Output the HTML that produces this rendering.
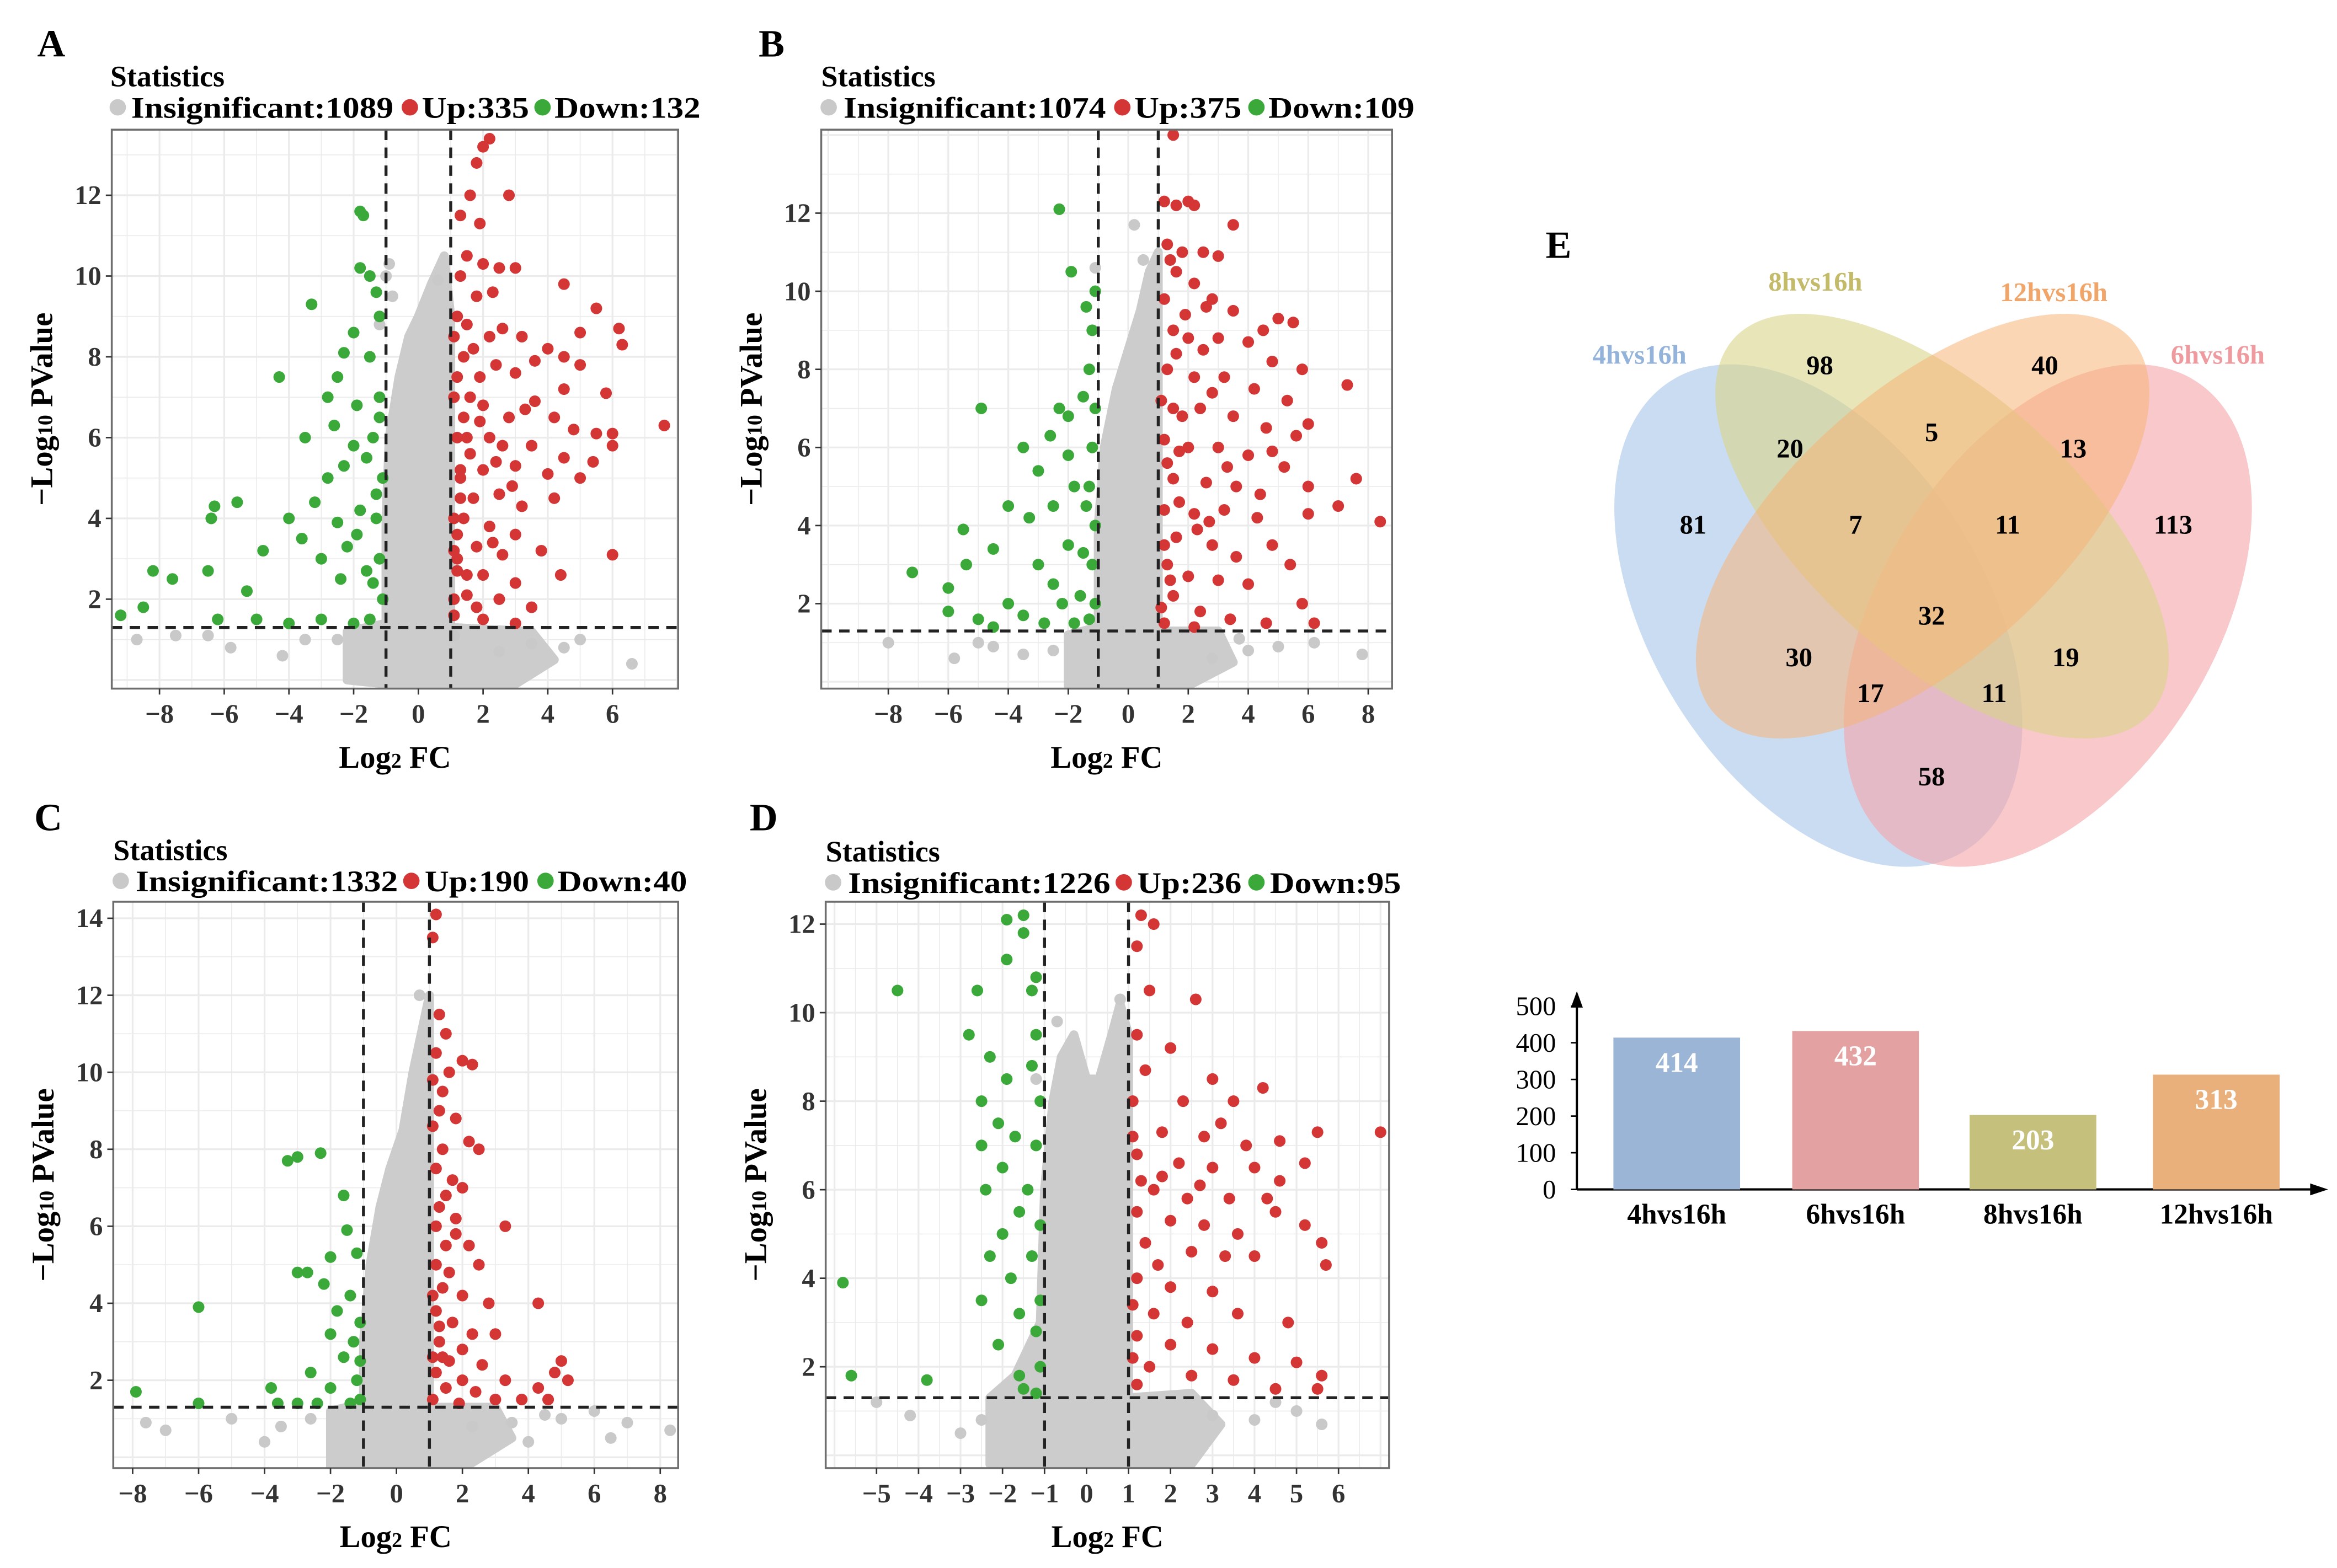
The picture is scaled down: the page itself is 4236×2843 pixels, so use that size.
<!DOCTYPE html>
<html><head><meta charset="utf-8"><style>
html,body{margin:0;padding:0;background:#fff;}
svg{display:block;font-family:"Liberation Serif",serif;}
</style></head><body>
<svg id="fig" xmlns="http://www.w3.org/2000/svg" width="4236" height="2843" viewBox="0 0 1568 1052" preserveAspectRatio="none">
<rect x="0" y="0" width="1568" height="1052" fill="#fff"/>
<g id="panels"></g>
<g id="venn">
  <text x="1037" y="173" font-size="26" font-weight="bold">E</text>
  <ellipse cx="1220" cy="413" rx="186" ry="112" transform="rotate(58 1220 413)" fill="#a9c6e8" fill-opacity="0.62"/>
  <ellipse cx="1374" cy="413" rx="186" ry="112" transform="rotate(-58 1374 413)" fill="#f3a3a8" fill-opacity="0.6"/>
  <ellipse cx="1303" cy="353" rx="188" ry="90" transform="rotate(42 1303 353)" fill="#d8d388" fill-opacity="0.6"/>
  <ellipse cx="1290" cy="353" rx="188" ry="90" transform="rotate(-42 1290 353)" fill="#f5b478" fill-opacity="0.55"/>
  <text x="1100" y="244" font-size="18" font-weight="bold" fill="#93b3da" text-anchor="middle">4hvs16h</text>
  <text x="1218" y="195" font-size="18" font-weight="bold" fill="#c4bb6a" text-anchor="middle">8hvs16h</text>
  <text x="1378" y="202" font-size="18" font-weight="bold" fill="#f0a66a" text-anchor="middle">12hvs16h</text>
  <text x="1488" y="244" font-size="18" font-weight="bold" fill="#ee9a9e" text-anchor="middle">6hvs16h</text>
  <g id="vennnums" font-size="18" font-weight="bold" text-anchor="middle"></g>
</g>
<g id="bars"></g>
</svg>
<script>
// ---------- Volcano data (Log2FC, -Log10 P) ----------
const aRed=[1.1,2,1.2,3,1.1,4,1.3,5,1.2,6,1.1,7,1.4,8,1.2,9,1.3,10,1.5,10.5,1.6,12,1.8,12.8,2,13.2,2.2,13.4,1.9,11.3,2,10.3,2.5,10.2,3,10.2,1.8,9.5,2.3,9.6,1.5,8.8,2.2,8.5,2.6,8.7,3.2,8.5,1.9,7.5,2.4,7.8,3,7.6,3.6,7.9,4,8.2,4.5,8,5,7.8,1.6,7,2,6.8,2.8,6.5,3.3,6.7,4.2,6.5,4.8,6.2,5.5,6.1,6,6.1,7.6,6.3,1.5,6,2.2,6,2.6,5.8,3.5,5.8,4.5,5.5,5.4,5.4,6,5.8,1.3,5.2,2,5.2,3,5.3,4,5.1,5,5,1.7,4.5,2.5,4.6,3.2,4.3,4.2,4.5,1.4,4,2.2,3.8,3,3.6,1.8,3.3,2.6,3.1,3.8,3.2,6,3.1,1.2,2.7,2,2.6,3,2.4,4.4,2.6,1.5,2.1,2.5,2,3.5,1.8,1.1,1.6,2,1.5,3,1.4,4.5,9.8,5.5,9.2,6.2,8.7,6.3,8.3,5,8.6,4.5,7.2,5.8,7.1,1.1,3.2,1.3,11.5,2.8,12,1.2,7.5,1.4,6.5,1.3,4.5,1.2,3.6,1.6,5.6,1.7,8.2,1.9,6.4,1.1,8.5,2.4,5.4,3.6,6.9,2.9,4.8,1.5,2.6,1.8,1.8,2.3,3.4];
const aGreen=[-1.1,2,-1.2,3,-1.3,4,-1.1,5,-1.4,6,-1.2,7,-1.5,8,-1.2,9,-1.5,10,-1.8,10.2,-1.7,11.5,-1.8,11.6,-1.3,9.6,-2,8.6,-2.3,8.1,-3.3,9.3,-2.5,7.5,-2.8,7,-1.9,6.8,-2.6,6.3,-2,5.8,-3.5,6,-4.3,7.5,-2.3,5.3,-2.8,5,-3.2,4.4,-1.8,4.2,-2.5,3.9,-4,4,-3.6,3.5,-2.2,3.3,-3,3,-1.6,2.7,-2.4,2.5,-4.8,3.2,-5.3,2.2,-6.3,4.3,-6.4,4,-5.6,4.4,-7.6,2.5,-8.2,2.7,-8.5,1.8,-9.2,1.6,-6.5,2.7,-5,1.5,-4,1.4,-3,1.5,-2,1.4,-6.2,1.5,-1.5,1.5,-1.2,6.5,-1.6,5.5,-1.3,4.6,-1.9,3.6,-1.4,2.4];
const aGrayArea=[-2.2,0,-2.2,1.2,-1,1.4,-1,4,-0.9,6,-0.6,7.5,-0.3,8.5,0,9,0.4,9.8,0.8,10.5,1,9,1,4,1,1.3,3.5,1.2,4.2,0.5,3,-0.1,-1,-0.1];
const aGray=[-1,10,-0.8,9.5,0.6,9.9,-2.5,1,-3.5,1,-5.8,0.8,-7.5,1.1,-8.7,1,3.5,0.9,4.5,0.8,5,1,6.6,0.4,-4.2,0.6,2.5,0.7,-1.2,8.8,-0.9,10.3,1.1,1.1,-6.5,1.1];

const bRed=[1.5,14,1.2,12.3,1.6,12.2,2,12.3,2.2,12.2,3.5,11.7,1.3,11.2,1.8,11,2.5,11,3,10.9,1.6,10.5,2.2,10.2,1.2,9.8,2.8,9.8,3.5,9.5,4.5,9,5,9.3,5.5,9.2,1.5,9,2,8.8,2.5,8.5,3,8.8,4,8.7,4.8,8.2,5.8,8,1.3,8,2.2,7.8,3.2,7.8,4.2,7.5,5.3,7.2,7.3,7.6,1.5,7,2.4,7,3.5,6.8,4.6,6.5,5.6,6.3,6,6.6,7.6,5.2,1.2,6.2,2,6,3,6,4,5.8,4.8,5.9,5.2,5.5,1.5,5.2,2.6,5.1,3.6,5,4.4,4.8,6,5,1.2,4.4,2.2,4.3,3.2,4.4,4.3,4.2,6,4.3,7,4.5,8.4,4.1,1.6,3.7,2.8,3.5,3.6,3.2,4.8,3.5,5.4,3,1.3,3,2,2.7,3,2.6,4,2.5,5.8,2,1.5,2.2,2.4,1.8,3.4,1.6,1.2,1.5,2.2,1.4,4.6,1.5,6.2,1.5,1.8,6.8,2.6,9.6,1.4,10.8,1.1,7.2,1.3,5.6,1.7,4.6,1.2,3.5,1.4,2.6,1.9,9.4,2.8,7.4,3.3,5.5,2.3,3.9,1.1,1.9,1.7,5.9,2.7,4.1,1.6,8.4];
const bGreen=[-1.1,2,-1.2,3,-1.1,4,-1.3,5,-1.2,6,-1.1,7,-1.3,8,-1.2,9,-1.1,10,-1.4,9.6,-1.9,10.5,-2.3,12.1,-1.5,7.3,-2,6.8,-2.3,7,-4.9,7,-2.6,6.3,-3.5,6,-2,5.8,-3,5.4,-1.8,5,-4,4.5,-2.5,4.5,-3.3,4.2,-5.5,3.9,-2,3.5,-4.5,3.4,-3,3,-5.4,3,-7.2,2.8,-6,2.4,-2.5,2.5,-1.6,2.2,-4,2,-3.5,1.7,-5,1.6,-6,1.8,-2.8,1.5,-4.5,1.4,-1.8,1.5,-2.2,2,-1.4,4.5,-1.5,3.3,-1.3,1.6];
const bGrayArea=[-2,-0.1,-2,1.2,-1,1.4,-1,4,-0.8,6,-0.4,7.5,0,8.5,0.4,9.5,0.7,10.5,1,11,1,1.3,3,1.3,3.5,0.5,2,-0.1];
const bGray=[-5,1,-3.5,0.7,-4.5,0.9,-5.8,0.6,-8,1,4,0.8,5,0.9,6.2,1,7.8,0.7,2.8,0.6,0.5,10.8,0.2,11.7,-2.5,0.8,-1.1,10.6,3.7,1.1];

const cRed=[1.2,14.1,1.1,13.5,1.3,11.5,1.5,11,1.2,10.5,1.6,10,1.4,9.5,2,10.3,2.3,10.2,1.3,9,1.8,8.8,2.2,8.2,2.5,8,1.4,8,1.2,7.5,1.7,7.2,2,7,1.3,6.5,1.8,6.2,1.2,6,2.2,5.5,3.3,6,1.5,5.5,1.2,5,1.6,4.8,2.5,5,1.4,4.4,2,4.2,2.8,4,4.3,4,1.2,3.8,1.7,3.5,2.3,3.2,3,3.2,1.3,3,2,2.8,1.6,2.5,2.6,2.4,1.2,2.2,2,2,3.3,2,1.5,1.8,2.4,1.7,1.1,1.5,3,1.5,4.6,1.5,4.3,1.8,5,2.5,5.2,2,4.8,2.2,3.8,1.5,1.9,1.4,1.4,2.6,1.8,5.8,1.1,9.8,1.1,8.6,1.5,6.8,1.1,4.2,1.3,3.4,1.1,2.6];
const cGreen=[-1.1,1.5,-1.2,2,-1.1,2.5,-1.3,3,-1.1,3.5,-1.4,4.2,-1.2,5.3,-1.6,6.8,-1.5,5.9,-2,5.2,-2.2,4.5,-1.8,3.8,-2,3.2,-1.6,2.6,-2.6,2.2,-2.4,1.4,-3,1.4,-2.3,7.9,-3,7.8,-3.3,7.7,-3,4.8,-2.7,4.8,-3.8,1.8,-3.6,1.4,-6,3.9,-6,1.4,-7.9,1.7,-1.4,1.4,-2,1.8];
const cGrayArea=[-2,-0.3,-2,1.2,-1,1.4,-1,3,-0.8,5,-0.5,6.5,-0.2,7.5,0.2,8.5,0.5,10,0.8,11.2,1,12,1,1.3,3,1.3,3.5,0.5,2,-0.3];
const cGray=[-7,0.7,-4,0.4,-5,1,-3.5,0.8,3.5,0.9,4.5,1.1,5,1,6.5,0.5,7,0.9,8.3,0.7,4,0.4,-2.6,1,0.7,12,2.3,0.8,-7.6,0.9,6,1.2];

const dRed=[1.3,12.2,1.6,12,1.2,11.5,1.5,10.5,2.6,10.3,1.2,9.5,2,9.2,1.4,8.7,1.1,8,2.3,8,3.5,8,4.2,8.3,3.2,7.5,1.8,7.3,2.8,7.2,3.8,7,4.6,7.1,5.5,7.3,7,7.3,1.2,6.8,2.2,6.6,3,6.5,4,6.5,4.6,6.2,5.2,6.6,1.6,6,2.4,5.8,3.4,5.8,4.3,5.8,1.2,5.5,2,5.3,2.8,5.2,3.6,5,4.5,5.5,5.2,5.2,5.6,4.8,1.4,4.8,2.5,4.6,3.3,4.5,4,4.5,5.7,4.3,1.2,4,2,3.8,3,3.7,1.6,3.2,2.4,3,3.6,3.2,4.8,3,1.2,2.7,2,2.5,3,2.4,4,2.2,5,2.1,1.5,2,2.5,1.8,3.5,1.7,1.2,1.6,4.5,1.5,5.5,1.5,5.6,1.8,1.8,6.3,3,8.5,1.1,7.2,1.3,6.2,1.1,3.4,1.1,2.2,1.7,4.3,2.7,6.1];
const dGreen=[-1.1,2,-1.2,2.8,-1.1,3.5,-1.3,4.5,-1.1,5.2,-1.4,6,-1.2,7,-1.1,8,-1.3,8.8,-1.2,9.5,-1.3,10.5,-1.2,10.8,-1.5,11.8,-1.5,12.2,-1.9,12.1,-1.9,11.2,-2.6,10.5,-2.8,9.5,-2.3,9,-1.9,8.5,-2.5,8,-2.1,7.5,-2.5,7,-1.7,7.2,-2,6.5,-2.4,6,-1.6,5.5,-2,5,-2.3,4.5,-1.8,4,-2.5,3.5,-1.6,3.2,-2.1,2.5,-1.6,1.8,-1.2,1.4,-1.5,1.5,-4.5,10.5,-5.8,3.9,-5.6,1.8,-3.8,1.7];
const dGrayArea=[-2.3,-0.2,-2.3,1.3,-1.7,1.8,-1.1,3,-1,6,-0.8,8,-0.6,9,-0.3,9.5,0,8.5,0.3,8.5,0.6,9.5,0.8,10.2,1,9.5,1,1.3,2.5,1.4,3.2,0.7,2.5,-0.2];
const dGray=[-3,0.5,-5,1.2,-2.5,0.8,3,0.9,4,0.8,4.5,1.2,5,1,-0.7,9.8,-1.2,8.5,-4.2,0.9,5.6,0.7,0.8,10.3];

// legend counts
const aStats=[1089,335,132], bStats=[1074,375,109], cStats=[1332,190,40], dStats=[1226,236,95];
// ticks
const abXTicks=[-8,-6,-4,-2,0,2,4,6], bXTicks=[-8,-6,-4,-2,0,2,4,6,8], cXTicks=[-8,-6,-4,-2,0,2,4,6,8], dXTicks=[-5,-4,-3,-2,-1,0,1,2,3,4,5,6];
const yTicks12=[2,4,6,8,10,12], yTicks14=[2,4,6,8,10,12,14];

// ---------- Venn / bar data ----------
const vennCounts=[98,40,20,5,13,81,7,11,113,32,30,19,17,11,58];
const barCats=["4hvs16h","6hvs16h","8hvs16h","12hvs16h"];
const barVals=[414,432,203,313];
const barTicks=[0,100,200,300,400,500];

const NS="http://www.w3.org/2000/svg";
function el(tag,attrs,parent){const e=document.createElementNS(NS,tag);for(const k in attrs)e.setAttribute(k,attrs[k]);parent.appendChild(e);return e;}

const panels=[
 {key:"a",label:"A",lx:25,ly:38,x0:75,x1:455,y0:87,y1:462,ox:280.7,kx:21.71,oy:456.2,ky:27.1,xt:abXTicks,yt:yTicks12,red:aRed,green:aGreen,area:aGrayArea,gray:aGray,stats:aStats,ty:58,legx:[79,88,275,283,364,372],legw:[176,72,98]},
 {key:"b",label:"B",lx:509,ly:38,x0:551,x1:934,y0:87,y1:462,ox:757,kx:20.125,oy:457.4,ky:26.2,xt:bXTicks,yt:yTicks12,red:bRed,green:bGreen,area:bGrayArea,gray:bGray,stats:bStats,ty:58,legx:[556,566,753,761,843,851],legw:[176,72,98]},
 {key:"c",label:"C",lx:23,ly:557,x0:76,x1:455,y0:605,y1:985,ox:266,kx:22.125,oy:977.7,ky:25.83,xt:cXTicks,yt:yTicks14,red:cRed,green:cGreen,area:cGrayArea,gray:cGray,stats:cStats,ty:577,legx:[81,91,276,285,366,374],legw:[176,70,87]},
 {key:"d",label:"D",lx:503,ly:557,x0:554,x1:932,y0:605,y1:985,ox:729,kx:28.18,oy:976.4,ky:29.7,xt:dXTicks,yt:yTicks12,red:dRed,green:dGreen,area:dGrayArea,gray:dGray,stats:dStats,ty:578,legx:[559,569,754,763,843,852],legw:[176,70,88]}
];

const root=document.getElementById('panels');
panels.forEach(p=>{
  const sx=v=>p.ox+v*p.kx, sy=v=>p.oy-v*p.ky;
  const g=el('g',{},root);
  
  
  const cp=el('clipPath',{id:'clip'+p.key},g);
  el('rect',{x:p.x0,y:p.y0,width:p.x1-p.x0,height:p.y1-p.y0},cp);
  const grid=el('g',{stroke:'#ebebeb','stroke-width':1,'clip-path':'url(#clip'+p.key+')'},g);
  
  
  const stepX=p.xt[1]-p.xt[0], stepY=p.yt[1]-p.yt[0];
  for(let v=p.xt[0]-stepX*2;v<=p.xt[p.xt.length-1]+stepX*2;v+=stepX/2){el('line',{x1:sx(v),x2:sx(v),y1:p.y0,y2:p.y1,'stroke-width':(Math.abs((v-p.xt[0])%stepX)<1e-6?1.2:0.6)},grid);}
  for(let v=0;v<=p.yt[p.yt.length-1]+stepY;v+=stepY/2){el('line',{x1:p.x0,x2:p.x1,y1:sy(v),y2:sy(v),'stroke-width':(Math.abs(v%stepY)<1e-6?1.2:0.6)},grid);}
  const data=el('g',{'clip-path':'url(#clip'+p.key+')'},g);
  let pts=[];for(let i=0;i<p.area.length;i+=2)pts.push(sx(p.area[i])+','+sy(p.area[i+1]));
  const poly=el('polygon',{points:pts.join(' '),fill:'#cccccc',stroke:'#cccccc','stroke-width':6,'stroke-linejoin':'round'},data);
  
  
  const drawPts=(arr,col,name)=>{for(let i=0;i<arr.length;i+=2){const c=el('circle',{cx:sx(arr[i]),cy:sy(arr[i+1]),r:3.9,fill:col},data);
    
    }};
  drawPts(p.gray,'#c9c9c9','insignificant-point');
  drawPts(p.green,'#3aa93a','down-point');
  drawPts(p.red,'#d43535','up-point');
  const th=el('g',{stroke:'#222','stroke-width':2,'stroke-dasharray':'7,5',fill:'none'},g);
  
  
  el('line',{x1:sx(-1),x2:sx(-1),y1:p.y0,y2:p.y1},th);
  el('line',{x1:sx(1),x2:sx(1),y1:p.y0,y2:p.y1},th);
  el('line',{x1:p.x0,x2:p.x1,y1:sy(1.3),y2:sy(1.3)},th);
  const b=el('rect',{x:p.x0,y:p.y0,width:p.x1-p.x0,height:p.y1-p.y0,fill:'none',stroke:'#6e6e6e','stroke-width':1.3},g);
  
  
  p.xt.forEach(v=>{el('line',{x1:sx(v),x2:sx(v),y1:p.y1,y2:p.y1+4,stroke:'#333'},g);
    const t=el('text',{x:sx(v),y:p.y1+23,'font-size':18,'font-weight':'bold','text-anchor':'middle',fill:'#333'},g);t.textContent=(v<0?'\u2212'+(-v):v);
    
    });
  p.yt.forEach(v=>{el('line',{x1:p.x0-4,x2:p.x0,y1:sy(v),y2:sy(v),stroke:'#333'},g);
    const t=el('text',{x:p.x0-7,y:sy(v)+6,'font-size':18,'font-weight':'bold','text-anchor':'end',fill:'#333'},g);t.textContent=v;
    
    });
  const xt=el('text',{x:(p.x0+p.x1)/2,y:p.y1+53,'font-size':21,'font-weight':'bold','text-anchor':'middle'},g);
  xt.innerHTML='Log<tspan font-size="14">2</tspan> FC';
  
  
  const cy=(p.y0+p.y1)/2, cx=p.x0-40;
  const yt=el('text',{x:cx,y:cy,'font-size':21,'font-weight':'bold','text-anchor':'middle',transform:'rotate(-90 '+cx+' '+cy+')'},g);
  yt.innerHTML='\u2212Log<tspan font-size="14">10</tspan> PValue';
  
  
  const pl=el('text',{x:p.lx,y:p.ly,'font-size':26,'font-weight':'bold'},g);pl.textContent=p.label;
  
  
  const st=el('text',{x:p.legx[0]-5,y:p.ty,'font-size':20,'font-weight':'bold'},g);st.textContent='Statistics';
  
  
  const ly=p.ty+14, names=['Insignificant:','Up:','Down:'], cols=['#c9c9c9','#d43535','#3aa93a'];
  for(let i=0;i<3;i++){
    const c=el('circle',{cx:p.legx[i*2],cy:ly,r:5.5,fill:cols[i]},g);
    
    
    const t=el('text',{x:p.legx[i*2+1],y:ly+7,'font-size':20,'font-weight':'bold',textLength:p.legw[i],lengthAdjust:'spacingAndGlyphs'},g);
    t.textContent=names[i]+p.stats[i];
    
    
  }
});

const vennPos=[[1221,251],[1372,251],[1201,307],[1296,296],[1391,307],[1136,358],[1245,358],[1347,358],[1458,358],[1296,419],[1207,447],[1386,447],[1255,471],[1338,471],[1296,527]];
const vn=document.getElementById('vennnums');
vennCounts.forEach((v,i)=>{const t=el('text',{x:vennPos[i][0],y:vennPos[i][1]},vn);t.textContent=v;
  
  });

const bg=document.getElementById('bars');
const by0=798, bk=0.246, bx0=1058;
const bcx=[1125,1245,1364,1487], bcol=['#9bb5d6','#e3a1a1','#c5c17c','#e9b07b'];
const byf=v=>by0-v*bk;
el('line',{x1:bx0,x2:bx0,y1:by0,y2:668,stroke:'#000','stroke-width':1.5},bg);
el('polygon',{points:(bx0-4)+',676 '+bx0+',665 '+(bx0+4)+',676',fill:'#000'},bg);
el('line',{x1:bx0,x2:1556,y1:by0,y2:by0,stroke:'#000','stroke-width':1.5},bg);
el('polygon',{points:'1550,'+(by0-4)+' 1562,'+by0+' 1550,'+(by0+4),fill:'#000'},bg);
barTicks.forEach(v=>{el('line',{x1:bx0-4,x2:bx0,y1:byf(v),y2:byf(v),stroke:'#000'},bg);
  const t=el('text',{x:bx0-14,y:byf(v)+6,'font-size':18,'text-anchor':'end'},bg);t.textContent=v;
  
  });
barVals.forEach((v,i)=>{
  const r=el('rect',{x:bcx[i]-42.5,y:byf(v),width:85,height:v*bk,fill:bcol[i]},bg);
  
  
  const t=el('text',{x:bcx[i],y:byf(v)+23,'font-size':19,'font-weight':'bold','text-anchor':'middle',fill:'#fff'},bg);t.textContent=v;
  
  
  const c=el('text',{x:bcx[i],y:821,'font-size':19,'font-weight':'bold','text-anchor':'middle'},bg);c.textContent=barCats[i];
  
  
});
</script>
</body></html>
